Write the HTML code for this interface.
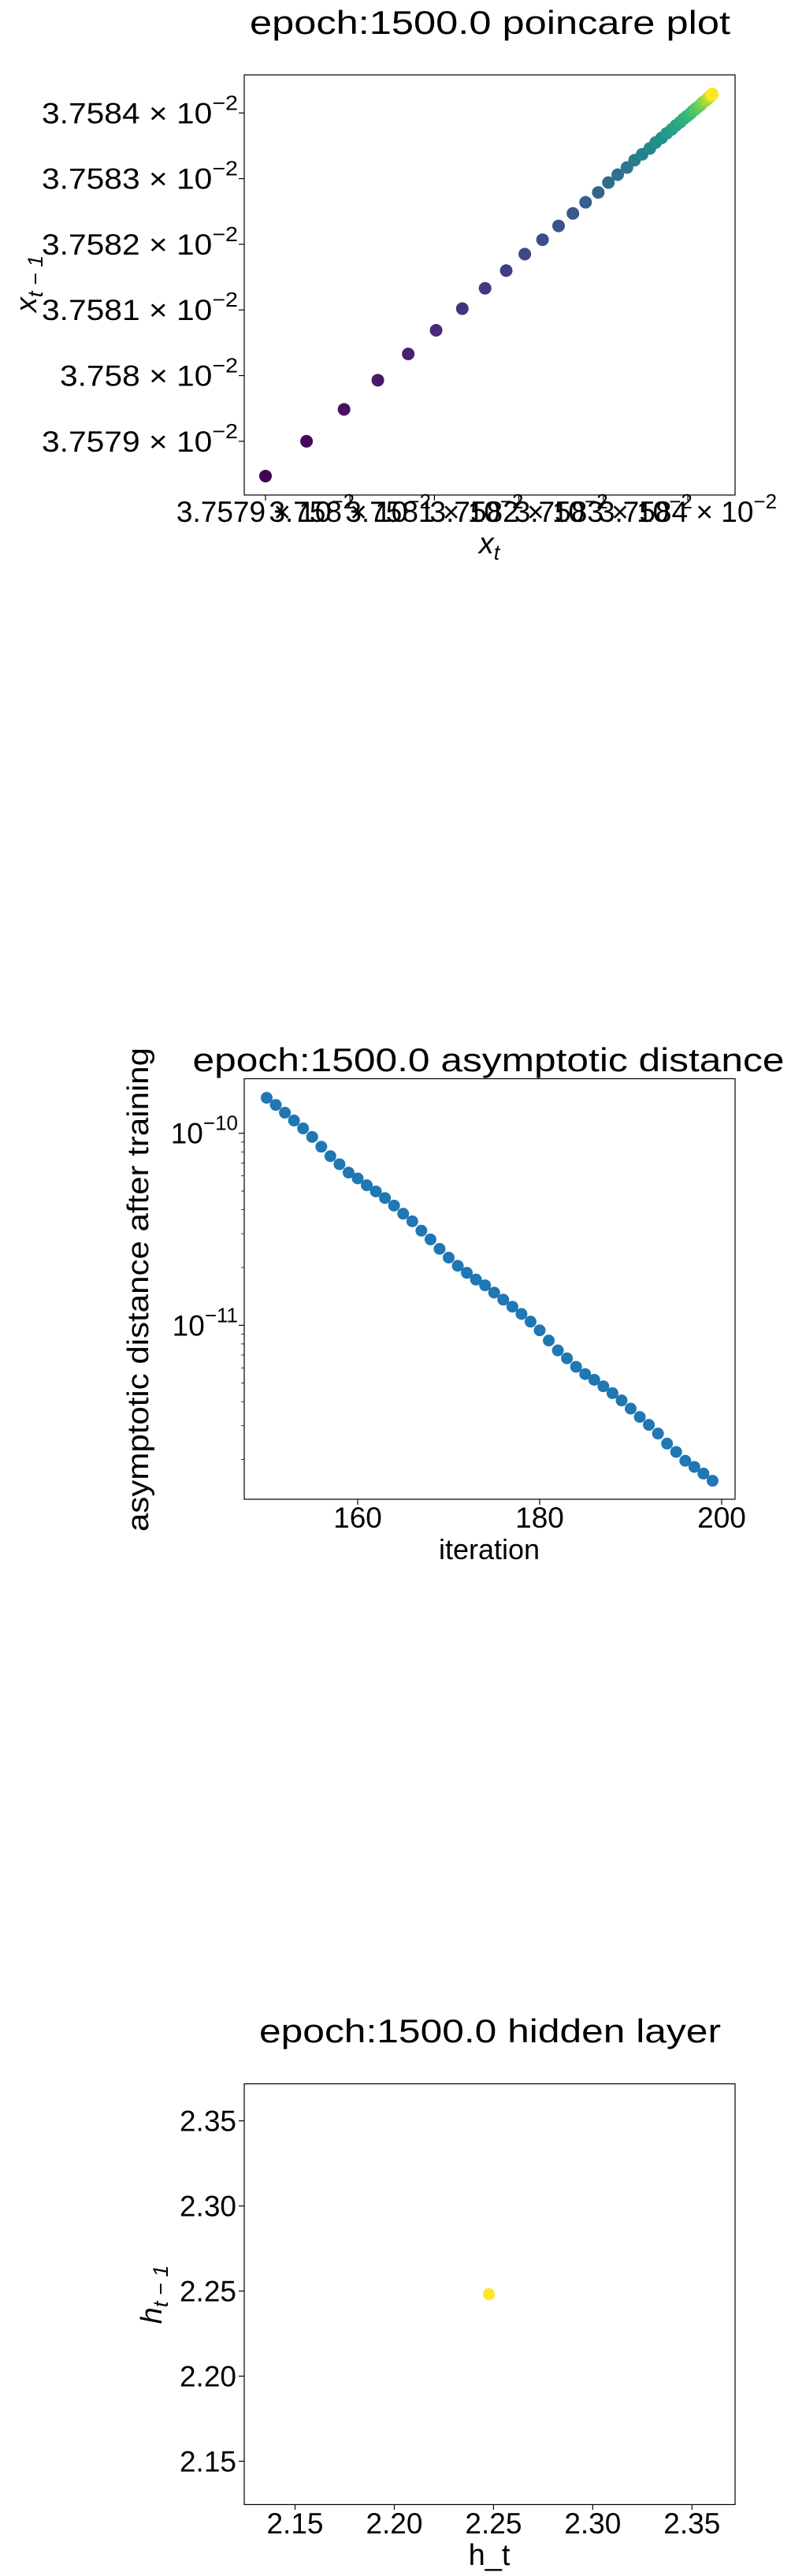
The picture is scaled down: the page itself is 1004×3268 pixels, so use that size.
<!DOCTYPE html>
<html><head><meta charset="utf-8"><style>
html,body{margin:0;padding:0;background:#fff;}
svg{display:block;font-family:"Liberation Sans",sans-serif;}
</style></head><body>
<svg id="fig" width="1004" height="3268" viewBox="0 0 1004 3268" xmlns="http://www.w3.org/2000/svg">
<rect width="1004" height="3268" fill="#fff"/>
<g>
<text x="622" y="43" font-size="42" text-anchor="middle" textLength="610" lengthAdjust="spacingAndGlyphs">epoch:1500.0 poincare plot</text>
<rect x="310" y="95" width="623" height="533" fill="none" stroke="#000" stroke-width="1.2"/>
<g id="c1"></g>
<text x="621" y="702" font-size="38" font-style="italic" text-anchor="middle">x<tspan font-size="27" dy="8">t</tspan></text>
<text transform="translate(46,360) rotate(-90)" font-size="38" font-style="italic" text-anchor="middle">x<tspan font-size="27" dy="8">t − 1</tspan></text>
</g>
<g>
<text x="620" y="1359" font-size="42" text-anchor="middle" textLength="751" lengthAdjust="spacingAndGlyphs">epoch:1500.0 asymptotic distance</text>
<rect x="310" y="1368.5" width="623" height="533.5" fill="none" stroke="#000" stroke-width="1.2"/>
<g id="c2"></g>
<text x="621" y="1978" font-size="36" text-anchor="middle">iteration</text>
<text transform="translate(188,1636) rotate(-90)" font-size="38" text-anchor="middle" textLength="614" lengthAdjust="spacingAndGlyphs">asymptotic distance after training</text>
</g>
<g>
<text x="622" y="2591" font-size="42" text-anchor="middle" textLength="586" lengthAdjust="spacingAndGlyphs">epoch:1500.0 hidden layer</text>
<rect x="310" y="2643.6" width="623" height="533.8" fill="none" stroke="#000" stroke-width="1.2"/>
<g id="c3"></g>
<text x="621" y="3254" font-size="38" text-anchor="middle">h_t</text>
<text transform="translate(205,2911) rotate(-90)" font-size="38" font-style="italic" text-anchor="middle">h<tspan font-size="27" dy="8">t − 1</tspan></text>
</g>
</svg>
<script>
const poincareXt = [0,0.486,0.93,1.33,1.69,2.02,2.33,2.60,2.85,3.07,3.28,3.47,3.64,3.79,3.94,4.06,4.17,4.28,4.37,4.46,4.55,4.62,4.69,4.75,4.81,4.86,4.91,4.95,4.99,5.03,5.06,5.09,5.12,5.15,5.17,5.19,5.21,5.23,5.25,5.26,5.27,5.28,5.29,5.29];
const poincareXt1 = [-0.53,0,0.486,0.93,1.33,1.69,2.02,2.33,2.60,2.85,3.07,3.28,3.47,3.64,3.79,3.94,4.06,4.17,4.28,4.37,4.46,4.55,4.62,4.69,4.75,4.81,4.86,4.91,4.95,4.99,5.03,5.06,5.09,5.12,5.15,5.17,5.19,5.21,5.23,5.25,5.26,5.27,5.28,5.29];
const poincareYTicks = ["3.7579","3.758","3.7581","3.7582","3.7583","3.7584"];
const poincareXTicks = ["3.7579","3.758","3.7581","3.7582","3.7583","3.7584"];
const iterations = [150,151,152,153,154,155,156,157,158,159,160,161,162,163,164,165,166,167,168,169,170,171,172,173,174,175,176,177,178,179,180,181,182,183,184,185,186,187,188,189,190,191,192,193,194,195,196,197,198,199];
const distances = [1.53e-10,1.405e-10,1.28e-10,1.165e-10,1.06e-10,9.57e-11,8.51e-11,7.60e-11,6.90e-11,6.24e-11,5.82e-11,5.36e-11,4.98e-11,4.60e-11,4.20e-11,3.81e-11,3.48e-11,3.11e-11,2.80e-11,2.50e-11,2.25e-11,2.04e-11,1.875e-11,1.73e-11,1.615e-11,1.48e-11,1.36e-11,1.25e-11,1.146e-11,1.045e-11,9.41e-12,8.33e-12,7.40e-12,6.73e-12,6.08e-12,5.57e-12,5.20e-12,4.81e-12,4.43e-12,4.06e-12,3.68e-12,3.33e-12,3.03e-12,2.73e-12,2.42e-12,2.19e-12,1.97e-12,1.83e-12,1.69e-12,1.55e-12];
const distXTicks = [160,180,200];
const distYDecades = [-10,-11];
const hiddenHt = [2.2477];
const hiddenHt1 = [2.2482];
const hiddenTicks = ["2.15","2.20","2.25","2.30","2.35"];

const NS = "http://www.w3.org/2000/svg";
function mk(tag, attrs, parent){const e=document.createElementNS(NS,tag);for(const k in attrs)e.setAttribute(k,attrs[k]);parent.appendChild(e);return e;}
const viridis=[[68,1,84],[72,40,120],[62,74,137],[49,104,142],[38,130,142],[31,158,137],[53,183,121],[109,205,89],[180,222,44],[253,231,37]];
function vir(t){t=Math.max(0,Math.min(1,t));const p=t*(viridis.length-1),i=Math.min(Math.floor(p),viridis.length-2),f=p-i;const a=viridis[i],b=viridis[i+1];return `rgb(${a.map((v,k)=>Math.round(v+(b[k]-v)*f)).join(',')})`;}

(function(){
  const g=document.getElementById('c1');
  const xs=v=>337+v*107.2, ys=v=>559.8-v*83.3;
  poincareYTicks.forEach((lab,i)=>{
    const y=ys(i);
    const t=mk('line',{x1:303,x2:310,y1:y,y2:y,stroke:'#000','stroke-width':1.2},g);
    
    
    const tx=mk('text',{x:302,y:y+13,'font-size':37,'text-anchor':'end',textLength:(lab.length>5?249:226),lengthAdjust:'spacingAndGlyphs'},g);
    
    
    tx.innerHTML=lab+' × 10<tspan font-size="26" dy="-17">−2</tspan>';
  });
  poincareXTicks.forEach((lab,i)=>{
    const x=xs(i);
    const t=mk('line',{x1:x,x2:x,y1:628,y2:635,stroke:'#000','stroke-width':1.2},g);
    
    
    const tx=mk('text',{x:x,y:662,'font-size':37,'text-anchor':'middle'},g);
    
    
    tx.innerHTML=lab+' × 10<tspan font-size="26" dy="-17">−2</tspan>';
  });
  const n=poincareXt.length;
  poincareXt.forEach((v,i)=>{
    const c=mk('circle',{cx:xs(v),cy:ys(poincareXt1[i]),r:8,fill:vir(i/(n-1))},g);
    
    
  });
})();

(function(){
  const g=document.getElementById('c2');
  const xs=v=>454+(v-160)*11.55;
  const ys=v=>1437.7-(Math.log10(v)+10)*243.6;
  distXTicks.forEach(v=>{
    const x=xs(v);
    const t=mk('line',{x1:x,x2:x,y1:1902,y2:1909,stroke:'#000','stroke-width':1.2},g);
    
    
    const tx=mk('text',{x:x,y:1938,'font-size':37,'text-anchor':'middle'},g);
    
    
    tx.textContent=v;
  });
  distYDecades.forEach(d=>{
    const y=ys(Math.pow(10,d));
    const t=mk('line',{x1:303,x2:310,y1:y,y2:y,stroke:'#000','stroke-width':1.2},g);
    
    
    const tx=mk('text',{x:302,y:y+13,'font-size':37,'text-anchor':'end'},g);
    
    
    tx.innerHTML='10<tspan font-size="26" dy="-17">−'+(-d)+'</tspan>';
  });
  [-12,-11,-10].forEach(d=>{
    for(let m=2;m<=9;m++){
      const y=ys(m*Math.pow(10,d));
      if(y<1368.5||y>1902)continue;
      const t=mk('line',{x1:306,x2:310,y1:y,y2:y,stroke:'#000','stroke-width':0.8},g);
      
      
    }
  });
  iterations.forEach((it,i)=>{
    const c=mk('circle',{cx:xs(it),cy:ys(distances[i]),r:7.5,fill:'#1f77b4'},g);
    
    
  });
})();

(function(){
  const g=document.getElementById('c3');
  const xs=v=>374.5+(v-2.15)*2519;
  const ys=v=>3122.4-(v-2.15)*2159;
  hiddenTicks.forEach(lab=>{
    const v=parseFloat(lab);
    const x=xs(v), y=ys(v);
    const t=mk('line',{x1:x,x2:x,y1:3177.4,y2:3184,stroke:'#000','stroke-width':1.2},g);
    
    
    const tx=mk('text',{x:x,y:3214,'font-size':37,'text-anchor':'middle'},g);
    
    
    tx.textContent=lab;
    const t2=mk('line',{x1:303,x2:310,y1:y,y2:y,stroke:'#000','stroke-width':1.2},g);
    
    
    const ty=mk('text',{x:300,y:y+13,'font-size':37,'text-anchor':'end'},g);
    
    
    ty.textContent=lab;
  });
  hiddenHt.forEach((v,i)=>{
    const c=mk('circle',{cx:xs(v),cy:ys(hiddenHt1[i]),r:7.5,fill:'#fde725'},g);
    
    
  });
})();
</script>
</body></html>
